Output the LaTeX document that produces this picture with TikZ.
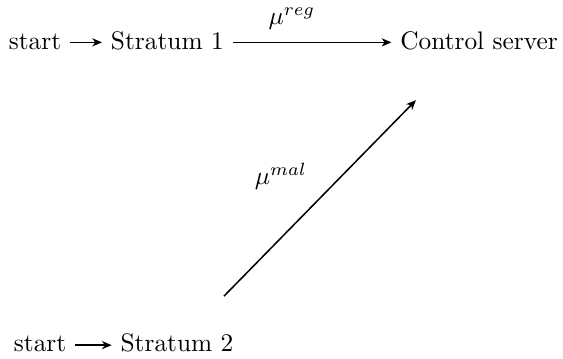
\documentclass[tikz,border=0pt]{standalone}
\usetikzlibrary{arrows.meta}
\begin{document}
\begin{tikzpicture}[x=1pt,y=1pt,
  lbl/.style={anchor=base,text height=1.5ex,text depth=.25ex},
  conn/.style={semithick,-{Stealth[length=3.8pt,width=3.2pt,inset=1.1pt]}}]
\useasboundingbox (0,0) rectangle (222,141.2);
\node[lbl] (start1) at (13.8,121.8) {start};
\node[lbl] (s1) at (66.0,121.8) {Stratum 1};
\node[lbl] (cs) at (188.9,121.8) {Control server};
\node[lbl] (start2) at (15.8,2.4) {start};
\node[lbl] (s2) at (69.8,2.4) {Stratum 2};
\coordinate (a) at (88.3,24.4);
\coordinate (b) at (164.0,101.7);
\draw[conn] (start1) -- (s1);
\draw[conn] (start2) -- (s2);
\draw[conn] (s1) -- (cs);
\draw[conn] (a) -- (b);
\node (reg) at (115.1,133.7) {$\mu^{reg}$};
\node (mal) at (110.8,71.8) {$\mu^{mal}$};
\end{tikzpicture}
\end{document}
